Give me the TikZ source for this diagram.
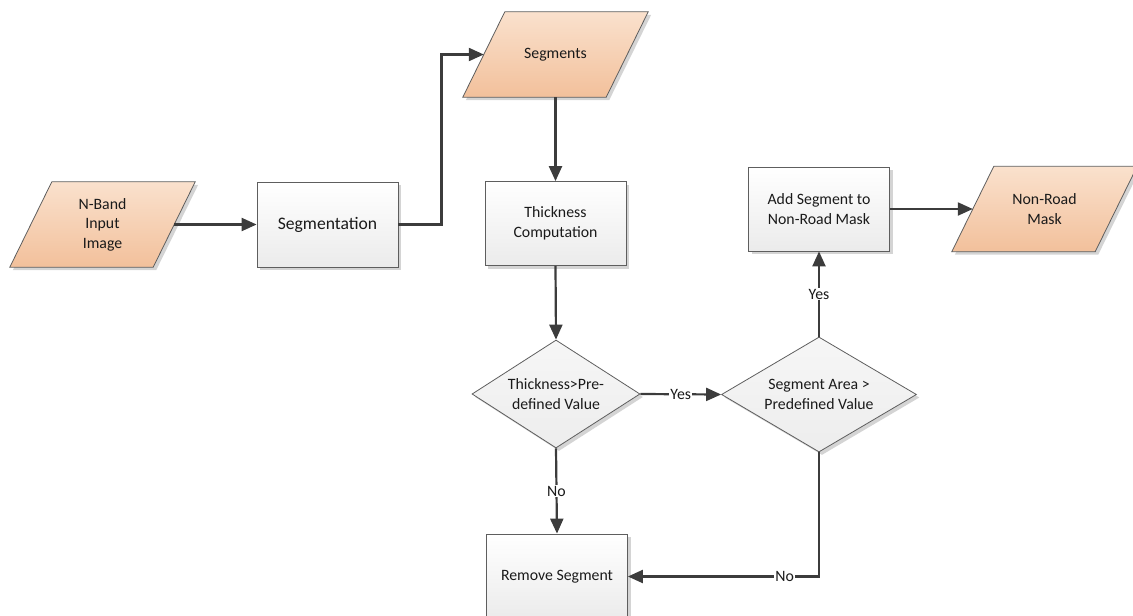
\documentclass[tikz,border=0pt]{standalone}
\usepackage{fontspec}
\setmainfont{Carlito}
\usetikzlibrary{arrows.meta,shapes.geometric,shadows,backgrounds,calc}
\definecolor{linec}{HTML}{3C3C3C}
\definecolor{edge}{HTML}{5E5E5E}
\definecolor{txt}{HTML}{1A1A1A}
\definecolor{boxbot}{HTML}{EBEBEB}
\definecolor{diatop}{HTML}{F6F6F6}
\definecolor{diabot}{HTML}{EDEDED}
\definecolor{ptop}{HTML}{FAE1CD}
\definecolor{pbot}{HTML}{F2C09B}
\definecolor{shadowc}{HTML}{D4D4D4}
\begin{document}
\begin{tikzpicture}[x=1pt,y=-1pt,
  every node/.style={font=\fontsize{15.8}{19.5}\selectfont, text=txt, align=center},
  boxnode/.style={rectangle, draw=edge, line width=0.8pt, top color=white, bottom color=boxbot,
    minimum width=141pt, minimum height=85pt, inner sep=0pt,
    drop shadow={shadow xshift=3pt, shadow yshift=-3pt, fill=shadowc, opacity=1}},
  datanode/.style={rectangle, minimum width=143pt, minimum height=85pt, inner sep=0pt},
  decision/.style={diamond, draw=edge, line width=0.8pt, top color=diatop, bottom color=diabot,
    inner sep=0pt,
    drop shadow={shadow xshift=3pt, shadow yshift=-3pt, fill=shadowc, opacity=1}},
  conn/.style={draw=linec, line width=2.2pt, -{Triangle[length=15pt,width=13pt]}},
  lab/.style={fill=white, inner sep=1pt}]
\useasboundingbox (0,0) rectangle (1133,616);

% process and data nodes
\node[datanode] (in) at (102.5,224.5) {N-Band\\Input\\Image};
\node[boxnode, font=\fontsize{17.6}{21}\selectfont] (segm) at (327.5,224.5) {Segmentation};
\node[datanode] (segs) at (555.5,54.5) {Segments};
\node[boxnode, minimum height=84pt] (thick) at (555.5,223.5) {Thickness\\Computation};
\node[decision, aspect=1.556, minimum width=168pt, minimum height=108pt] (d1) at (556,394) {Thickness>Pre-\\defined Value};
\node[decision, aspect=1.696, minimum width=195pt, minimum height=115pt] (d2) at (819,394.5) {Segment Area >\\Predefined Value};
\node[boxnode, minimum height=84pt] (add) at (819,209) {Add Segment to\\Non-Road Mask};
\node[datanode] (nrm) at (1044.5,209) {Non-Road\\Mask};
\node[boxnode] (rem) at (557,576.5) {Remove Segment};

% parallelogram outlines of the data nodes
\begin{scope}[on background layer]
  \foreach \n in {in,segs,nrm} {
    \fill[shadowc] ($(\n.north west)+(24,3)$) -- ($(\n.north east)+(24,3)$)
      -- ($(\n.south east)+(-18,3)$) -- ($(\n.south west)+(-18,3)$) -- cycle;
    \shadedraw[top color=ptop, bottom color=pbot, draw=edge, line width=0.8pt]
      ($(\n.north west)+(21,0)$) -- ($(\n.north east)+(21,0)$)
      -- ($(\n.south east)+(-21,0)$) -- ($(\n.south west)+(-21,0)$) -- cycle;
  }
\end{scope}

% connectors
\draw[conn] (in.east) -- (segm.west);
\draw[conn] (segm.east) -- ++(43,0) |- (segs.west);
\draw[conn] (segs.south) -- (thick.north);
\draw[conn] (thick.south) -- (d1.north);
\draw[conn] (d1.east) -- node[lab] {Yes} (d2.west);
\draw[conn] (d2.north) -- node[lab] {Yes} (add.south);
\draw[conn] (add.east) -- (nrm.west);
\draw[conn] (d1.south) -- node[lab] {No} (rem.north);
\draw[conn] (d2.south) |- node[lab, pos=0.59] {No} (rem.east);
\end{tikzpicture}
\end{document}
